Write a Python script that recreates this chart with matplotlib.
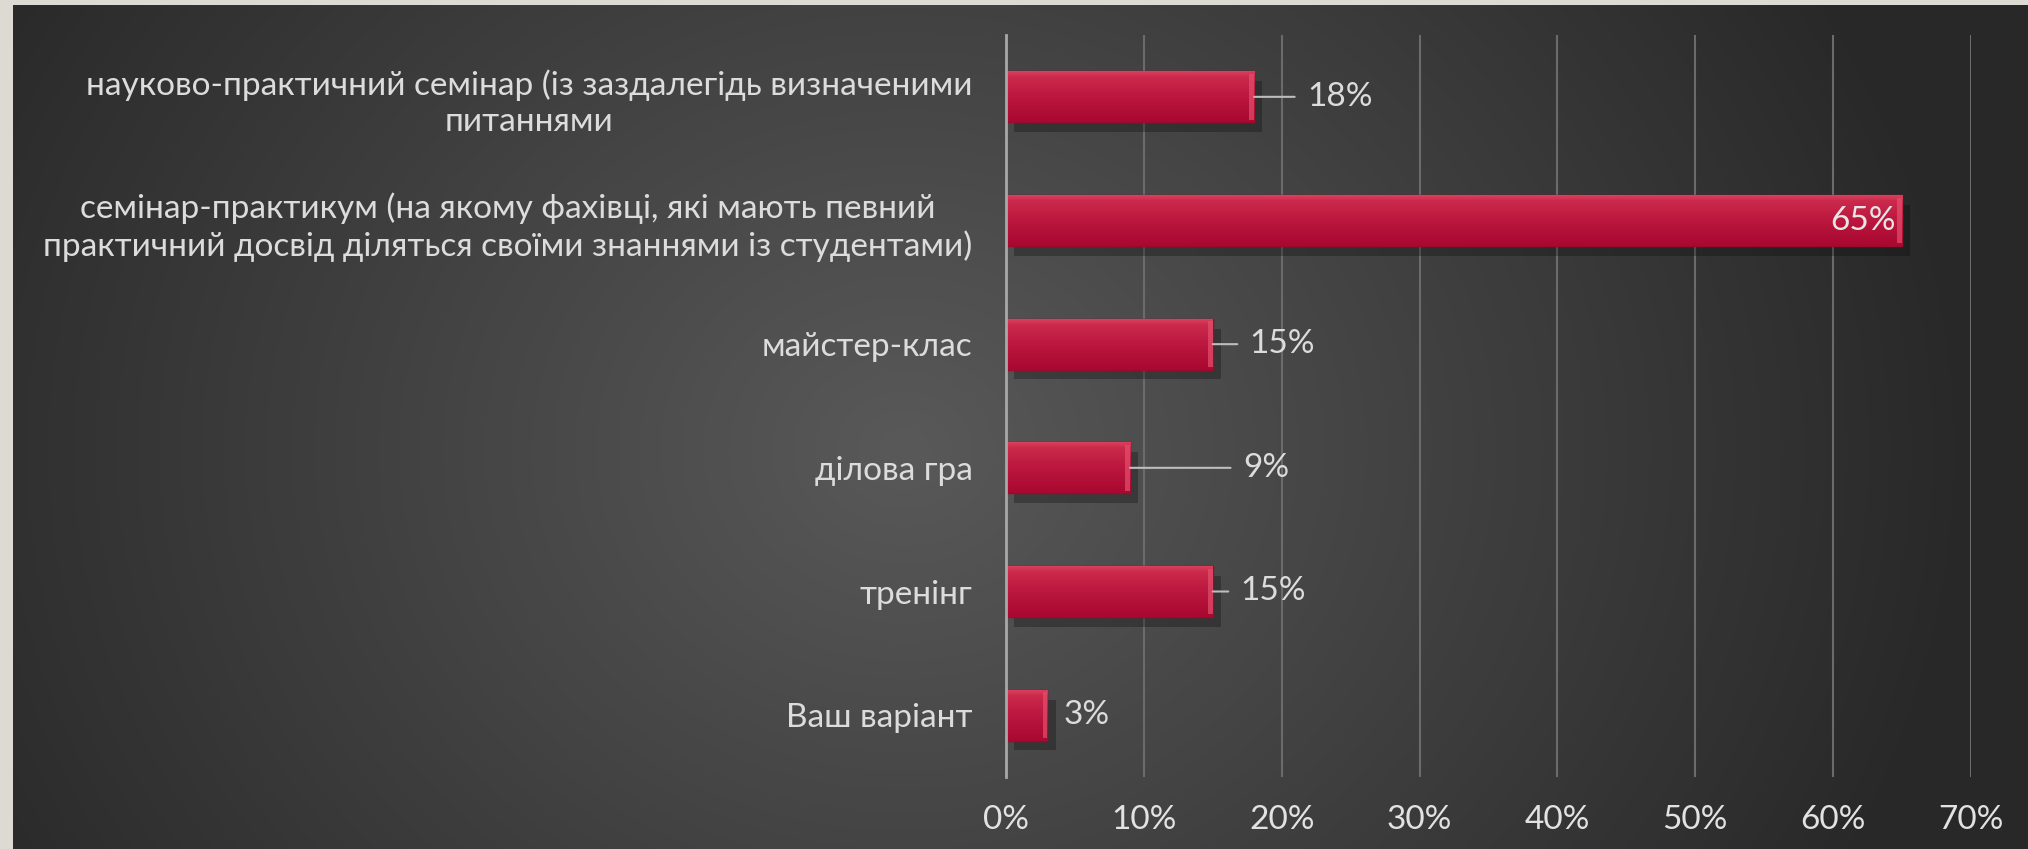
import numpy as np
import matplotlib.pyplot as plt
import matplotlib.patheffects as pe
from matplotlib.colors import LinearSegmentedColormap
from matplotlib.ticker import PercentFormatter

# survey answers
categories = [
    "науково-практичний семінар (із заздалегідь визначеними\nпитаннями",
    "семінар-практикум (на якому фахівці, які мають певний\nпрактичний досвід діляться своїми знаннями із студентами)",
    "майстер-клас",
    "ділова гра",
    "тренінг",
    "Ваш варіант",
]
values = [0.18, 0.65, 0.15, 0.09, 0.15, 0.03]
value_labels = ["18%", "65%", "15%", "9%", "15%", "3%"]
xticks = [0, 0.1, 0.2, 0.3, 0.4, 0.5, 0.6, 0.7]

# where the data labels sit (pixels right of bar end), negative = inside the bar
label_dx = [53, -6, 37, 113, 28, 16]

W, H, DPI = 2028, 849, 100
FONT = ['Lato', 'DejaVu Sans']
TXT = '#dcdcdc'
FS = 24

fig = plt.figure(figsize=(W / DPI, H / DPI), dpi=DPI)
fig.patch.set_facecolor('#dddad3')

# background: dark radial gradient inside the beige frame
bg = fig.add_axes([0, 0, 1, 1])
bg.axis('off')
gx, gy = np.meshgrid(np.linspace(13, W, 500), np.linspace(5, H + 10, 220))
r = np.hypot(gx - 900, (gy - 450) * 1.15) / 1050.0
shade = np.clip(0x59 - (0x59 - 0x29) * r, 0x28, 0x5a)
bg_cmap = LinearSegmentedColormap.from_list('bg', ['#282828', '#5a5a5a'])
bg.imshow(shade, cmap=bg_cmap, vmin=0x28, vmax=0x5a, extent=[13, W + 10, H + 10, 5],
          aspect='auto', interpolation='bilinear')
bg.set_xlim(0, W)
bg.set_ylim(H, 0)

ax = fig.add_axes([1006 / W, 1 - 777 / H, 965 / W, 742 / H])
ax.patch.set_alpha(0)

y = np.arange(len(categories))
bar_h = 0.41
bar_cmap = LinearSegmentedColormap.from_list(
    'bar', [(0, '#d8405c'), (0.1, '#cc2a4c'), (0.5, '#bb173f'), (1, '#a90830')])

bars = ax.barh(y, values, height=bar_h, color='#b8143c', edgecolor='#9a0a2c',
               linewidth=1, zorder=3)
for b in bars:
    b.set_path_effects([pe.SimplePatchShadow(offset=(6, -7), shadow_rgbFace='#0a0a0a', alpha=0.3),
                        pe.Normal()])
    # vertical gradient over each bar
    x0, y0, bw, bh = b.get_x(), b.get_y(), b.get_width(), b.get_height()
    im = ax.imshow(np.linspace(0, 1, 50).reshape(-1, 1), cmap=bar_cmap,
                   extent=[x0, x0 + bw, y0 + bh, y0], aspect='auto', zorder=4,
                   interpolation='bilinear')
    im.set_clip_path(b)
    # light bevel on the right end
    bev = 0.0035
    ax.barh(y0 + bh / 2, bev, left=x0 + bw - bev, height=bh * 0.9,
            color='#e2506c', alpha=0.7, linewidth=0, zorder=5)

ax.set_xlim(0, 0.7)
ax.set_ylim(len(categories) - 0.5, -0.5)

ax.set_xticks(xticks)
ax.xaxis.set_major_formatter(PercentFormatter(1.0, decimals=0))
ax.set_yticks(y)
ax.set_yticklabels(categories, fontsize=FS, color=TXT, family=FONT,
                   multialignment='center', linespacing=1.25)
for lab in ax.get_xticklabels():
    lab.set_fontsize(FS)
    lab.set_color('#e2e2e2')
    lab.set_family(FONT)
ax.tick_params(axis='both', length=0)
ax.tick_params(axis='y', pad=24)
ax.tick_params(axis='x', pad=20)

ax.grid(axis='x', color='#6b6b6b', linewidth=1.5, zorder=0)
ax.set_axisbelow(True)
for s in ['top', 'right', 'bottom']:
    ax.spines[s].set_visible(False)
ax.spines['left'].set_color('#a8a8a8')
ax.spines['left'].set_linewidth(2)
ax.spines['left'].set_zorder(6)

# data labels with leader lines
for i, (v, txt, dx) in enumerate(zip(values, value_labels, label_dx)):
    if dx < 0:
        ax.annotate(txt, xy=(v, i), xytext=(dx, 0), textcoords='offset pixels',
                    ha='right', va='center', fontsize=FS, color='#e6e6e6',
                    family=FONT, zorder=7)
    elif dx > 20:
        ax.annotate(txt, xy=(v, i), xytext=(dx, 0), textcoords='offset pixels',
                    ha='left', va='center', fontsize=FS, color=TXT,
                    family=FONT, zorder=7,
                    arrowprops=dict(arrowstyle='-', color='#bdbdbd', lw=1.5,
                                    relpos=(0, 0.5), shrinkA=7, shrinkB=0))
    else:
        ax.annotate(txt, xy=(v, i), xytext=(dx, 0), textcoords='offset pixels',
                    ha='left', va='center', fontsize=FS, color=TXT,
                    family=FONT, zorder=7)

fig.savefig('out.png', dpi=DPI, facecolor=fig.get_facecolor())
